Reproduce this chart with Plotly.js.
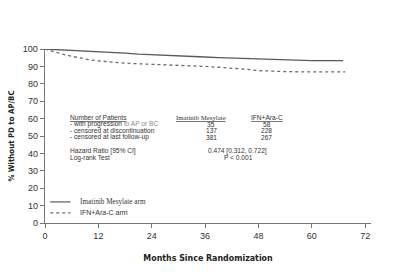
<!DOCTYPE html>
<html>
<head>
<meta charset="utf-8">
<script src="https://cdn.plot.ly/plotly-3.0.1.min.js"></script>
<style>
  html, body { margin: 0; padding: 0; background: #fff; }
  #chart { width: 400px; height: 276px; }
</style>
</head>
<body>
<div id="chart"></div>
<script>
// Kaplan-Meier estimates: % without progression to AP/BC
const imatinibMonths = [0, 3, 6, 9, 12, 15, 18, 21, 24, 27, 30, 33, 36, 39, 42, 45, 48, 51, 54, 57, 60, 63, 66, 67];
const imatinibPct    = [100, 99.6, 99.2, 98.9, 98.6, 98.3, 97.6, 97.0, 96.6, 96.2, 96.0, 95.7, 95.4, 95.1, 94.8, 94.5, 94.2, 93.9, 93.6, 93.4, 93.3, 93.3, 93.3, 93.3];

const ifnMonths = [0, 1, 2, 3, 4, 6, 8, 10, 12, 15, 18, 21, 24, 27, 30, 33, 36, 39, 42, 45, 48, 51, 54, 57, 60, 63, 66, 67.5];
const ifnPct    = [100, 99.2, 98.4, 97.8, 97.0, 95.8, 94.6, 93.8, 93.2, 92.4, 91.9, 91.5, 91.1, 90.8, 90.5, 90.3, 90.0, 89.6, 89.0, 88.4, 87.6, 87.2, 87.0, 86.9, 86.8, 86.8, 86.8, 86.8];

const seriesNames = ['Imatinib Mesylate arm', 'IFN+Ara-C arm'];
const xTicks = [0, 12, 24, 36, 48, 60, 72];
const yTicks = [0, 10, 20, 30, 40, 50, 60, 70, 80, 90, 100];

// Summary table
const tableRowLabels = ['- with progression to AP or BC', '- censored at discontinuation', '- censored at last follow-up'];
const imatinibCounts = ['35', '137', '381'];
const ifnCounts = ['58', '228', '267'];
const hazardRatio = '0.474 [0.312, 0.722]';
const logRankP = 'P < 0.001';

const sans = 'Liberation Sans, Arial, sans-serif';
const cond = 'DejaVu Sans Condensed, Liberation Sans, Arial, sans-serif';
const serif = 'Liberation Serif, Times New Roman, serif';
const txt = '#333';

const traces = [
  { x: imatinibMonths, y: imatinibPct, name: seriesNames[0], mode: 'lines',
    line: { color: '#5a5a5a', width: 1.3 }, showlegend: false },
  { x: ifnMonths, y: ifnPct, name: seriesNames[1], mode: 'lines',
    line: { color: '#6a6a6a', width: 1.3, dash: '3px,3px' }, showlegend: false }
];

// paper-coordinate helper for the table text
const tFont = { family: sans, size: 6.6, color: txt };
const annotations = [];
function note(text, x, y, align, font) {
  annotations.push({ xref: 'paper', yref: 'paper', x: x, y: y, text: text,
    showarrow: false, xanchor: align, yanchor: 'middle', borderpad: 0, font: font || tFont });
}

const headY = 0.607;
const rowY = [0.567, 0.53, 0.494];
note('<u>Number of Patients</u>', 0.075, headY, 'left');
tableRowLabels.forEach((t, i) => note(
  i === 0 ? t.replace('to AP or BC', '<span style="fill:#8a8a8a">to AP or BC</span>') : t,
  0.075, rowY[i], 'left'));
note('<u>Imatinib Mesylate</u>', 0.478, headY, 'center', { family: serif, size: 6.8, color: txt });
note('<u>IFN+Ara-C</u>', 0.68, headY, 'center');
imatinibCounts.forEach((t, i) => note(t, 0.51, rowY[i], 'center'));
ifnCounts.forEach((t, i) => note(t, 0.68, rowY[i], 'center'));
note('Hazard Ratio [95% CI]', 0.075, 0.412, 'left');
note('Log-rank Test', 0.075, 0.376, 'left');
note(hazardRatio, 0.59, 0.412, 'center');
note(logRankP, 0.594, 0.376, 'center');

// legend keys and labels
const legY = [0.121, 0.058];
note(seriesNames[0], 0.105, legY[0], 'left', { family: serif, size: 7.2, color: txt });
note(seriesNames[1], 0.105, legY[1], 'left', { family: sans, size: 7, color: txt });
const shapes = [
  { type: 'line', xref: 'paper', yref: 'paper', x0: 0.016, x1: 0.078, y0: legY[0], y1: legY[0],
    line: { color: '#5a5a5a', width: 1.2 } },
  { type: 'line', xref: 'paper', yref: 'paper', x0: 0.016, x1: 0.078, y0: legY[1], y1: legY[1],
    line: { color: '#6a6a6a', width: 1.2, dash: '3px,3px' } }
];

const layout = {
  width: 400, height: 276,
  margin: { l: 45, r: 29, t: 49, b: 53 },
  paper_bgcolor: '#fff', plot_bgcolor: '#fff',
  showlegend: false,
  xaxis: {
    range: [0, 73.3], tickvals: xTicks, ticktext: xTicks.map(String),
    showgrid: false, zeroline: false, showline: true, linecolor: '#777', linewidth: 1.3,
    ticks: 'outside', ticklen: 4, tickcolor: '#777', tickwidth: 1,
    tickfont: { family: sans, size: 9, color: txt },
    title: { text: '<b>Months Since Randomization</b>', standoff: 14,
      font: { family: cond, size: 8.8, color: '#222' } }
  },
  yaxis: {
    range: [0, 100], tickvals: yTicks,
    showgrid: false, zeroline: false, showline: true, linecolor: '#777', linewidth: 1.3,
    ticks: 'outside', ticklen: 4, tickcolor: '#777', tickwidth: 1,
    tickfont: { family: sans, size: 9, color: txt },
    title: { text: '<b>% Without PD to AP/BC</b>', standoff: 7,
      font: { family: cond, size: 7.8, color: '#222' } }
  },
  annotations: annotations,
  shapes: shapes
};

Plotly.newPlot('chart', traces, layout, { displayModeBar: false, staticPlot: true });
</script>
</body>
</html>
